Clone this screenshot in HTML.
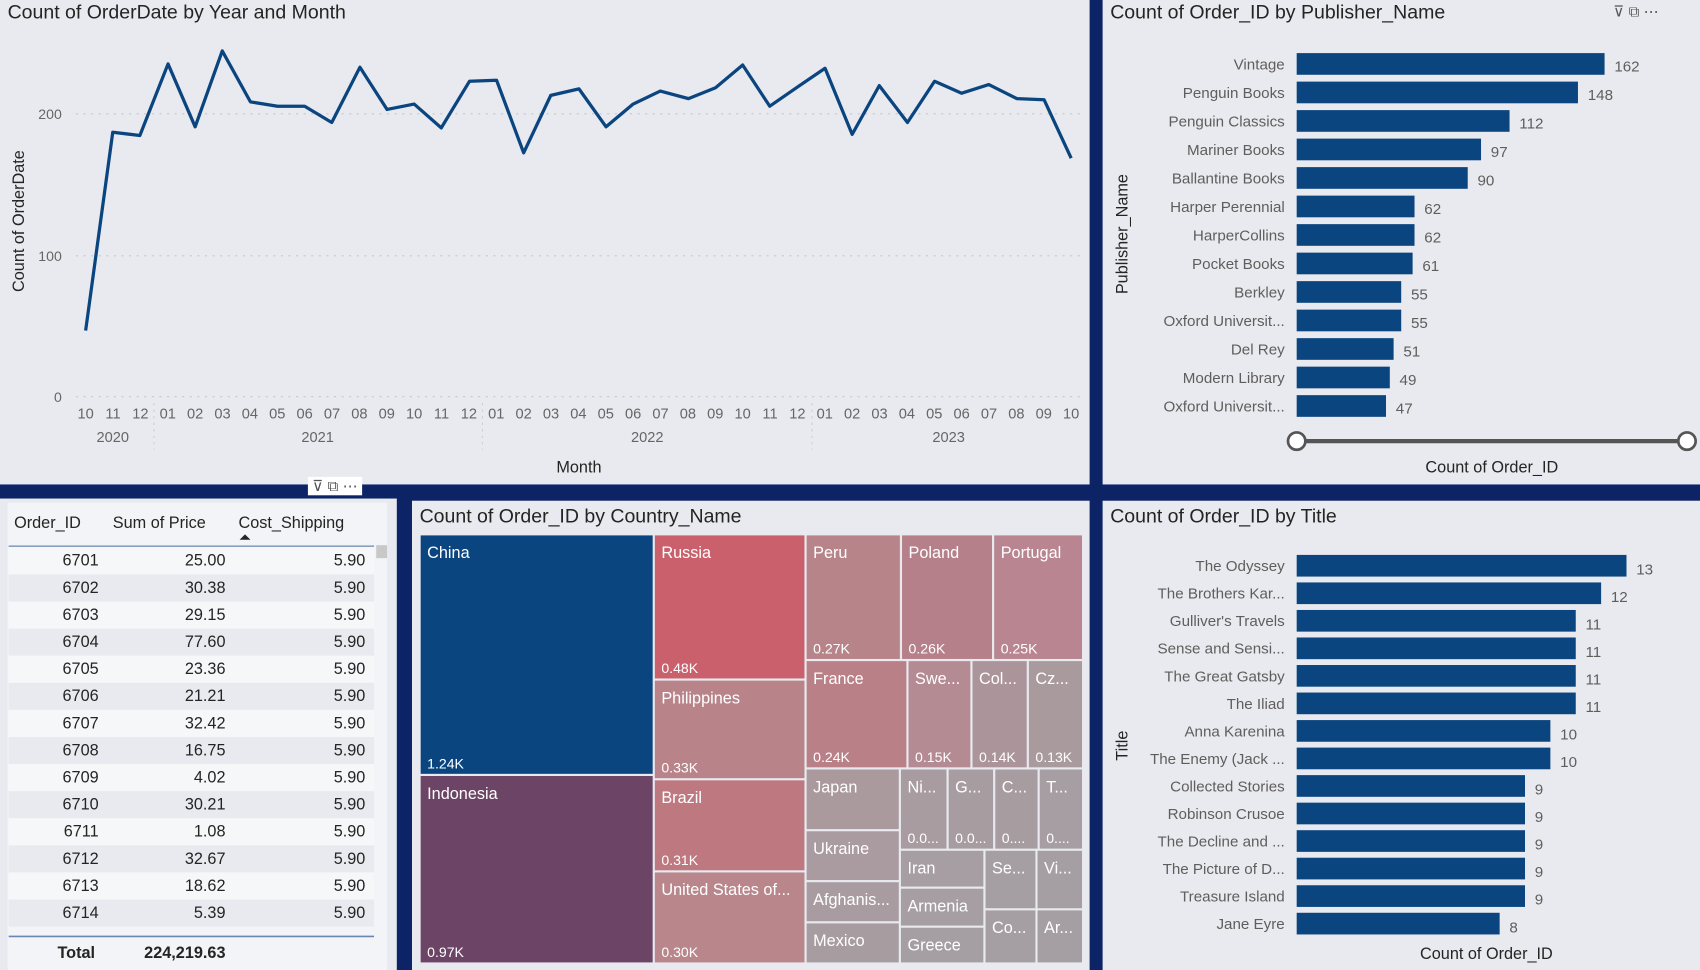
<!DOCTYPE html>
<html><head><meta charset="utf-8"><style>
html,body{margin:0;padding:0;width:1700px;height:970px;overflow:hidden;background:#0c2466;}
#w{position:absolute;left:0;top:0;width:1568px;height:895px;transform:scale(1.08418,1.0838);transform-origin:0 0;font-family:"Liberation Sans",sans-serif;}
.p{position:absolute;background:#e8eaef;}
.t{position:absolute;font-size:18px;color:#252423;white-space:nowrap;}
svg text{font-family:"Liberation Sans",sans-serif;}
</style></head><body><div id="w">
<svg width="1568" height="895" style="position:absolute;left:0;top:0">
<rect x="0" y="0" width="1568" height="895" fill="#0c2466"/>
<rect x="0" y="0" width="1005" height="447" fill="#e8eaef"/>
<rect x="1017" y="0" width="551" height="447" fill="#e8eaef"/>
<rect x="0" y="460" width="366" height="435" fill="#e8eaef"/>
<rect x="380" y="462" width="625" height="433" fill="#e8eaef"/>
<rect x="1017" y="462" width="551" height="433" fill="#e8eaef"/>
<!-- line chart -->
<text x="7" y="17" font-size="18" fill="#252423">Count of OrderDate by Year and Month</text>
<g stroke="#c8c8c8" stroke-dasharray="2,5" stroke-width="1">
<line x1="70" y1="105" x2="1000" y2="105"/><line x1="70" y1="236" x2="1000" y2="236"/><line x1="70" y1="366" x2="1000" y2="366"/>
</g>
<g font-size="13" fill="#666" text-anchor="end"><text x="57" y="110">200</text><text x="57" y="241">100</text><text x="57" y="371">0</text></g>
<text transform="translate(22,204) rotate(-90)" font-size="15" fill="#252423" text-anchor="middle">Count of OrderDate</text>
<polyline fill="none" stroke="#0b4580" stroke-width="3" stroke-linejoin="round" points="79,305 104,122 129,125 155,59 180,117 205,47 231,94 256,98 281,98 306,113 332,62 357,101 382,96 407,118 433,75 458,74 483,141 508,88 534,82 559,117 584,96 609,84 635,91 660,81 685,60 710,98 736,80 761,63 786,124 811,79 837,113 862,75 887,86 912,78 938,91 963,92 988,146"/>
<g font-size="13.5" fill="#666" text-anchor="middle" id="mx"></g>
<g font-size="13.5" fill="#666" text-anchor="middle"><text x="104" y="408">2020</text><text x="293" y="408">2021</text><text x="597" y="408">2022</text><text x="875" y="408">2023</text></g>
<g stroke="#ccc" stroke-dasharray="2,4"><line x1="142" y1="372" x2="142" y2="415"/><line x1="445" y1="372" x2="445" y2="415"/><line x1="749" y1="372" x2="749" y2="415"/></g>
<text x="534" y="436" font-size="15" fill="#252423" text-anchor="middle">Month</text>
<!-- publisher -->
<text x="1024" y="17" font-size="18" fill="#252423">Count of Order_ID by Publisher_Name</text>
<text transform="translate(1040,216) rotate(-90)" font-size="15" fill="#252423" text-anchor="middle">Publisher_Name</text>
<g id="pub"></g>
<line x1="1196" y1="407" x2="1556" y2="407" stroke="#555" stroke-width="4"/>
<circle cx="1196" cy="407" r="8" fill="#fff" stroke="#555" stroke-width="2.5"/><circle cx="1556" cy="407" r="8" fill="#fff" stroke="#555" stroke-width="2.5"/>
<text x="1376" y="436" font-size="15" fill="#252423" text-anchor="middle">Count of Order_ID</text>
<!-- title chart -->
<text x="1024" y="482" font-size="18" fill="#252423">Count of Order_ID by Title</text>
<text transform="translate(1040,688) rotate(-90)" font-size="15" fill="#252423" text-anchor="middle">Title</text>
<g id="tit"></g>
<text x="1371" y="885" font-size="15" fill="#252423" text-anchor="middle">Count of Order_ID</text>
<!-- table -->
<rect x="7" y="464" width="350" height="431" fill="#f3f4f7"/>
<g font-size="15" fill="#252423"><text x="13" y="487">Order_ID</text><text x="104" y="487">Sum of Price</text><text x="220" y="487">Cost_Shipping</text></g>
<path d="M221 498 l5 -5 l5 5z" fill="#252423"/>
<line x1="8" y1="504" x2="345" y2="504" stroke="#8aa0c0" stroke-width="1.5"/>
<g id="tbl"></g>
<line x1="8" y1="864" x2="345" y2="864" stroke="#6a86b6" stroke-width="1.5"/>
<g font-size="15" fill="#252423" font-weight="bold"><text x="53" y="884">Total</text><text x="208" y="884" text-anchor="end">224,219.63</text></g>
<rect x="347" y="503" width="10" height="12" fill="#c8c8c8"/>
<!-- treemap -->
<text x="387" y="482" font-size="18" fill="#252423">Count of Order_ID by Country_Name</text>
<g id="tm"></g>
</svg>
<div class="t" style="left:284px;top:440px;font-size:14px;color:#555;background:#fff;padding:0 4px">⊽ ⧉ ⋯</div>
<div class="t" style="left:1488px;top:2px;font-size:14px;color:#555">⊽ ⧉ ⋯</div>
</div>
<script>
var NS="http://www.w3.org/2000/svg";
function el(p,t,a,tx){var e=document.createElementNS(NS,t);for(var k in a)e.setAttribute(k,a[k]);if(tx!=null)e.textContent=tx;document.getElementById(p).appendChild(e);}
var m=["10","11","12","01","02","03","04","05","06","07","08","09"];
for(var i=0;i<37;i++){el("mx","text",{x:79+i*25.25,y:386},m[i%12]);}
var pub=[["Vintage",162],["Penguin Books",148],["Penguin Classics",112],["Mariner Books",97],["Ballantine Books",90],["Harper Perennial",62],["HarperCollins",62],["Pocket Books",61],["Berkley",55],["Oxford Universit...",55],["Del Rey",51],["Modern Library",49],["Oxford Universit...",47]];
pub.forEach(function(d,i){var y=59+i*26.3;el("pub","rect",{x:1196,y:y-10,width:d[1]*1.753,height:20,fill:"#0b4580"});
el("pub","text",{x:1185,y:y+5,"font-size":14,fill:"#605e5c","text-anchor":"end"},d[0]);
el("pub","text",{x:1196+d[1]*1.753+9,y:y+7,"font-size":14,fill:"#605e5c"},d[1]);});
var tit=[["The Odyssey",13],["The Brothers Kar...",12],["Gulliver's Travels",11],["Sense and Sensi...",11],["The Great Gatsby",11],["The Iliad",11],["Anna Karenina",10],["The Enemy (Jack ...",10],["Collected Stories",9],["Robinson Crusoe",9],["The Decline and ...",9],["The Picture of D...",9],["Treasure Island",9],["Jane Eyre",8]];
tit.forEach(function(d,i){var y=522+i*25.4;el("tit","rect",{x:1196,y:y-10,width:d[1]*23.4,height:20,fill:"#0b4580"});
el("tit","text",{x:1185,y:y+5,"font-size":14,fill:"#605e5c","text-anchor":"end"},d[0]);
el("tit","text",{x:1196+d[1]*23.4+9,y:y+8,"font-size":14,fill:"#605e5c"},d[1]);});
var tb=[["6701","25.00"],["6702","30.38"],["6703","29.15"],["6704","77.60"],["6705","23.36"],["6706","21.21"],["6707","32.42"],["6708","16.75"],["6709","4.02"],["6710","30.21"],["6711","1.08"],["6712","32.67"],["6713","18.62"],["6714","5.39"]];
tb.forEach(function(d,i){var y=517+i*25;el("tbl","rect",{x:8,y:y-12,width:337,height:25,fill:i%2?"#e8eaef":"#f6f7f9"});
el("tbl","text",{x:91,y:y+5,"font-size":15,fill:"#252423","text-anchor":"end"},d[0]);
el("tbl","text",{x:208,y:y+5,"font-size":15,fill:"#252423","text-anchor":"end"},d[1]);
el("tbl","text",{x:337,y:y+5,"font-size":15,fill:"#252423","text-anchor":"end"},"5.90");});
var tm=[[388,494,602,714,"#0b4580","China","1.24K"],[388,716,602,888,"#6c4566","Indonesia","0.97K"],
[604,494,742,626,"#c9606b","Russia","0.48K"],[604,628,742,718,"#b8848a","Philippines","0.33K"],[604,720,742,803,"#bd7880","Brazil","0.31K"],[604,805,742,888,"#b9868b","United States of...","0.30K"],
[744,494,830,608,"#b7848a","Peru","0.27K"],[832,494,915,608,"#b5808a","Poland","0.26K"],[917,494,998,608,"#b88590","Portugal","0.25K"],
[744,610,836,708,"#b98088","France","0.24K"],[838,610,895,708,"#b48b93","Swe...","0.15K"],[897,610,947,708,"#ab959a","Col...","0.14K"],[949,610,998,708,"#a99a9e","Cz...","0.13K"],
[744,710,829,765,"#aa9a9e","Japan",""],[744,767,829,812,"#a99b9f","Ukraine",""],[744,814,829,850,"#a89ca0","Afghanis...",""],[744,852,829,888,"#a79da1","Mexico",""],
[831,710,873,783,"#a89ca0","Ni...","0.0..."],[875,710,916,783,"#a79da1","G...","0.0..."],[918,710,957,783,"#a79da1","C...","0...."],[959,710,998,783,"#a69ea2","T...","0...."],
[831,785,907,818,"#a69ea2","Iran",""],[909,785,955,838,"#a59fa3","Se...",""],[957,785,998,838,"#a59fa3","Vi...",""],
[831,820,907,854,"#a69ea2","Armenia",""],[831,856,907,888,"#a59fa3","Greece",""],[909,840,955,888,"#a59fa3","Co...",""],[957,840,998,888,"#a59fa3","Ar...",""]];
tm.forEach(function(d){el("tm","rect",{x:d[0],y:d[1],width:d[2]-d[0],height:d[3]-d[1],fill:d[4]});
el("tm","text",{x:d[0]+6,y:d[1]+21,"font-size":15,fill:"#fff"},d[5]);
if(d[6])el("tm","text",{x:d[0]+6,y:d[3]-5,"font-size":13,fill:"#fff"},d[6]);});
</script>
</body></html>
